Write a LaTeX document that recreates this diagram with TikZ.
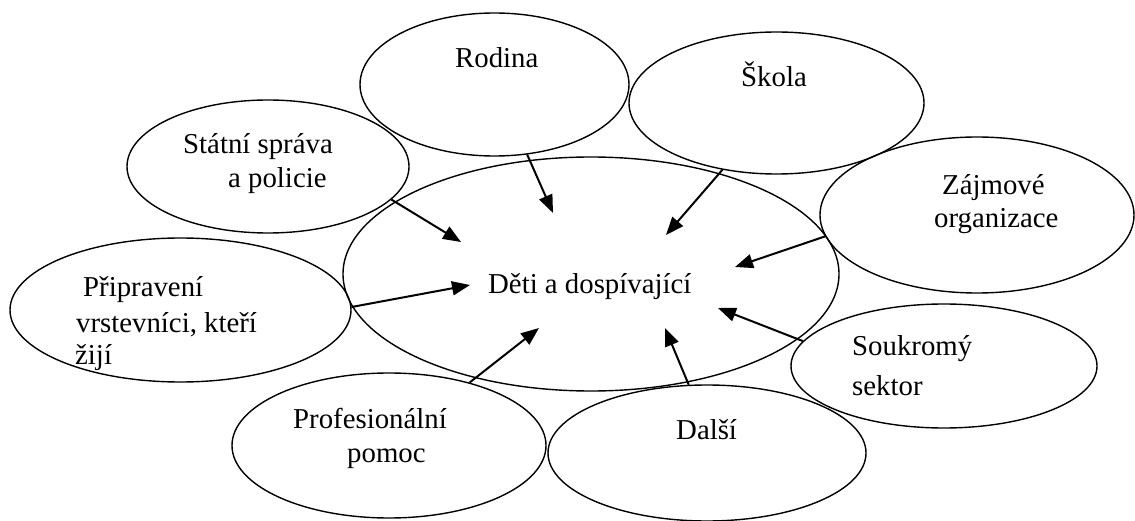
\documentclass[tikz,border=0pt]{standalone}
\usepackage{fontspec}
\setmainfont{Liberation Serif}
\usetikzlibrary{shapes.geometric,arrows.meta}
\begin{document}
\begin{tikzpicture}[x=1pt,y=-1pt,
  oval/.style={draw=black,line width=1.4pt,ellipse,inner sep=0pt},
  lbl/.style={anchor=base west,inner sep=0pt,font=\fontsize{28.8}{34}\selectfont},
  arr/.style={line width=2pt,-{Triangle[length=18pt,width=14pt]}}]
\useasboundingbox (0,0) rectangle (1135,521);
% ellipses
\node[oval,minimum width=496pt,minimum height=234pt] (deti) at (591,274) {};
\node[oval,minimum width=269pt,minimum height=143pt] (rodina) at (494.5,84.5) {};
\node[oval,minimum width=295pt,minimum height=142pt] (skola) at (776.5,103) {};
\node[oval,minimum width=282pt,minimum height=133pt] (statni) at (268,166.5) {};
\node[oval,minimum width=341pt,minimum height=144pt] (pripraveni) at (180.5,310) {};
\node[oval,minimum width=314pt,minimum height=145pt] (profes) at (389,445.5) {};
\node[oval,minimum width=318pt,minimum height=136pt] (dalsi) at (707,453) {};
\node[oval,minimum width=314pt,minimum height=156pt] (zajmove) at (977,215) {};
\node[oval,minimum width=306pt,minimum height=124pt] (soukromy) at (944,366) {};
% texts
\node[lbl] (tdeti) at (488,294) {Děti a dospívající};
\node[lbl] (trodina) at (455,68) {Rodina};
\node[lbl] (tskola) at (741,87) {Škola};
\node[lbl] (tstatni1) at (183,154) {Státní správa};
\node[lbl] (tstatni2) at (228,188) {a policie};
\node[lbl] (tprip1) at (83,297) {Připravení};
\node[lbl] (tprip2) at (76,332) {vrstevníci, kteří};
\node[lbl] (tprip3) at (75,364) {žijí};
\node[lbl] (tprof1) at (293,428) {Profesionální};
\node[lbl] (tprof2) at (347,462) {pomoc};
\node[lbl] (tdalsi) at (676,439) {Další};
\node[lbl] (tzaj1) at (942,195) {Zájmové};
\node[lbl] (tzaj2) at (934,228) {organizace};
\node[lbl] (tsouk1) at (852,355) {Soukromý};
\node[lbl] (tsouk2) at (852,395) {sektor};
% arrow tips
\coordinate (e-rodina) at (553,213);
\coordinate (e-statni) at (461,242);
\coordinate (e-skola) at (666,235);
\coordinate (e-zajmove) at (735,267);
\coordinate (e-soukromy) at (718,308);
\coordinate (e-dalsi) at (665,328);
\coordinate (e-profes) at (539,328);
\coordinate (e-prip) at (470,285);
% arrows
\draw[arr] (rodina.-65) -- (e-rodina);
\draw[arr] (statni.-15.5) -- (e-statni);
\draw[arr] (skola.-129.5) -- (e-skola);
\draw[arr] (zajmove.188.7) -- (e-zajmove);
\draw[arr] (soukromy.170.3) -- (e-soukromy);
\draw[arr] (dalsi.105.7) -- (e-dalsi);
\draw[arr] (profes.38.2) -- (e-profes);
\draw[arr] (pripraveni.1.7) -- (e-prip);
\end{tikzpicture}
\end{document}
